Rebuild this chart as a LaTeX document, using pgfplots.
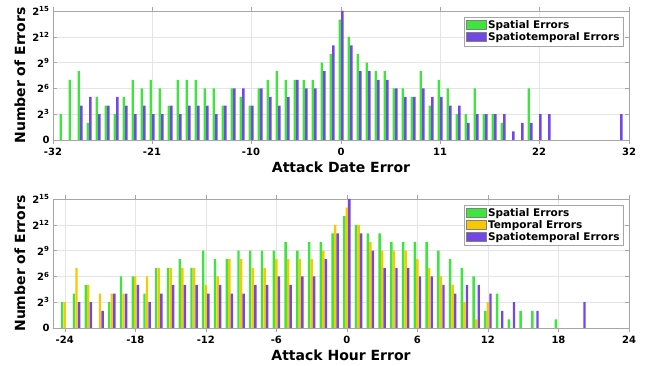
\documentclass[border=0pt]{standalone}
\usepackage{pgfplots}
\pgfplotsset{compat=1.18}
\usepackage{fontspec}
\setmainfont{DejaVu Sans}
\definecolor{sgreen}{RGB}{60,230,60}
\definecolor{syellow}{RGB}{250,200,0}
\definecolor{spurple}{RGB}{115,70,230}
\begin{document}
\begin{tikzpicture}[x=1pt,y=1pt]
\path[use as bounding box] (0,0) rectangle (652,366);
\pgfplotsset{
 myax/.style={
  scale only axis, width=576pt, height=129pt,
  ymin=0, ymax=15, ytick={0,3,6,9,12,15},
  yticklabels={0,2\textsuperscript{3},2\textsuperscript{6},2\textsuperscript{9},2\textsuperscript{12},2\textsuperscript{15}},
  tick label style={font=\bfseries\fontsize{10}{12}\selectfont},
  label style={font=\bfseries\fontsize{14}{16}\selectfont},
  grid=major, major grid style={gray!20},
  axis line style={gray!70}, tick style={gray!70},
  tick align=inside,
  ylabel={Number of Errors},
  legend style={font=\bfseries\fontsize{10.5}{12}\selectfont, draw=gray!70, inner sep=1.5pt, row sep=-1.5pt, legend cell align=left, at={(rel axis cs:0.99,0.953)}, anchor=north east},
 },
 limg/.style={legend image code/.code={\draw[##1, draw=gray, line width=0.5pt] (0pt,-4pt) rectangle (20pt,5pt);}},
 gbar/.style={draw=none, fill=sgreen},
 ybarst/.style={draw=none, fill=syellow},
 pbar/.style={draw=none, fill=spurple},
}
\begin{axis}[myax, at={(53pt,226pt)}, anchor=south west,
  xmin=-32, xmax=32, xtick={-32,-21,-10,0,11,22,32},
  xticklabels={-32,-21,-10,0,11,22,32},
  xlabel={Attack Date Error},
  ybar=0.2pt, bar width=2.4pt, limg]
\addplot[gbar] coordinates {(-31,3) (-30,7) (-29,8) (-28,2) (-27,5) (-26,4) (-25,3) (-24,5) (-23,7) (-22,6) (-21,7) (-20,6) (-19,4) (-18,7) (-17,7) (-16,7) (-15,6) (-14,6) (-13,4) (-12,6) (-11,5) (-10,4) (-9,6) (-8,7) (-7,8) (-6,7) (-5,7) (-4,7) (-3,7) (-2,9) (-1,10) (0,14) (1,12) (2,10) (3,9) (4,8) (5,8) (6,6) (7,6) (8,5) (9,8) (10,4) (11,7) (12,6) (13,3) (14,3) (15,6) (16,3) (17,3) (18,2) (21,6)};
\addlegendentry{Spatial Errors}
\addplot[pbar] coordinates {(-29,4) (-28,5) (-27,3) (-26,4) (-25,5) (-24,4) (-23,3) (-22,4) (-21,3) (-20,3) (-19,4) (-18,3) (-17,4) (-16,4) (-15,4) (-14,3) (-13,4) (-12,6) (-11,6) (-10,4) (-9,6) (-8,5) (-7,4) (-6,5) (-5,7) (-4,6) (-3,6) (-2,8) (-1,11) (0,15) (1,11) (2,8) (3,8) (4,7) (5,7) (6,6) (7,5) (8,5) (9,6) (10,5) (11,5) (12,4) (13,4) (14,2) (15,3) (16,3) (17,3) (18,3) (19,1) (20,2) (21,2) (22,3) (23,3) (31,3)};
\addlegendentry{Spatiotemporal Errors}
\end{axis}
\begin{axis}[myax, at={(53pt,38pt)}, anchor=south west,
  xmin=-25, xmax=24, xtick={-24,-18,-12,-6,0,6,12,18,24},
  xticklabels={-24,-18,-12,-6,0,6,12,18,24},
  xlabel={Attack Hour Error},
  ybar=0.15pt, bar width=2.4pt, limg]
\addplot[gbar] coordinates {(-24,3) (-23,4) (-22,5) (-20,3) (-19,6) (-18,6) (-17,4) (-16,7) (-15,7) (-14,8) (-13,7) (-12,9) (-11,8) (-10,8) (-9,9) (-8,9) (-7,9) (-6,9) (-5,10) (-4,9) (-3,10) (-2,10) (-1,11) (0,13) (1,12) (2,11) (3,11) (4,10) (5,10) (6,10) (7,10) (8,9) (9,8) (10,7) (11,6) (12,2) (13,4) (14,1) (15,2) (16,2) (18,1)};
\addlegendentry{Spatial Errors}
\addplot[ybarst] coordinates {(-24,3) (-23,7) (-22,5) (-21,4) (-20,4) (-19,4) (-18,6) (-17,6) (-16,7) (-15,7) (-14,7) (-13,7) (-12,5) (-11,6) (-10,8) (-9,8) (-8,7) (-7,7) (-6,8) (-5,8) (-4,8) (-3,8) (-2,9) (-1,12) (0,14) (1,12) (2,10) (3,9) (4,9) (5,9) (6,8) (7,7) (8,6) (9,5) (10,3) (11,1) (12,3)};
\addlegendentry{Temporal Errors}
\addplot[pbar] coordinates {(-23,3) (-22,3) (-21,2) (-20,4) (-19,4) (-18,5) (-17,3) (-16,4) (-15,5) (-14,5) (-13,5) (-12,4) (-11,5) (-10,4) (-9,4) (-8,5) (-7,5) (-6,6) (-5,5) (-4,6) (-3,6) (-2,8) (-1,11) (0,15) (1,11) (2,9) (3,7) (4,7) (5,7) (6,6) (7,6) (8,5) (9,4) (10,5) (11,5) (12,4) (13,2) (14,3) (16,2) (20,3)};
\addlegendentry{Spatiotemporal Errors}
\end{axis}
\end{tikzpicture}
\end{document}
